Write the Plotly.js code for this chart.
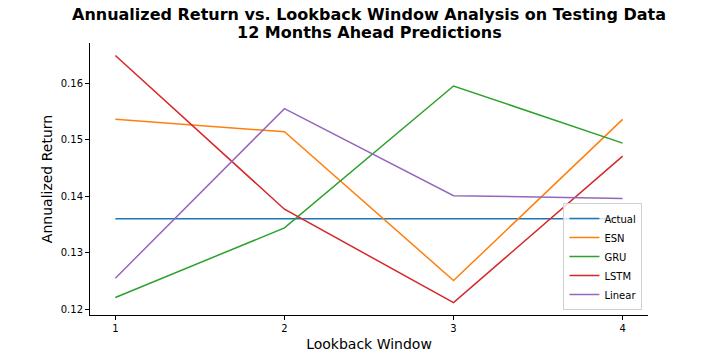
<!DOCTYPE html>
<html><head><meta charset="utf-8">
<script src="https://cdn.plot.ly/plotly-3.0.1.min.js"></script>
<style>html,body{margin:0;padding:0;background:#fff}</style>
</head><body>
<div id="chart" style="width:720px;height:360px"></div>
<script>
const windows = [1, 2, 3, 4];
const actual = [0.1360, 0.1360, 0.1360, 0.1360];
const esn    = [0.1536, 0.1514, 0.1251, 0.1536];
const gru    = [0.1221, 0.1344, 0.1595, 0.1494];
const lstm   = [0.1649, 0.1377, 0.1212, 0.1471];
const linear = [0.1255, 0.1555, 0.1401, 0.1396];
const names = ['Actual', 'ESN', 'GRU', 'LSTM', 'Linear'];
const colors = ['#1f77b4', '#ff7f0e', '#2ca02c', '#d62728', '#9467bd'];
const series = [actual, esn, gru, lstm, linear];
const titleLines = ['Annualized Return vs. Lookback Window Analysis on Testing Data', '12 Months Ahead Predictions'];

const traces = series.map((ys, i) => ({
  x: windows, y: ys, name: names[i], type: 'scatter', mode: 'lines',
  line: {color: colors[i], width: 1.5}
}));

const font = 'DejaVu Sans, sans-serif';
const layout = {
  width: 720, height: 360,
  margin: {l: 90, r: 72, t: 43, b: 45},
  paper_bgcolor: '#fff', plot_bgcolor: '#fff',
  font: {family: font, color: '#000'},
  annotations: [
    {text: '<b>' + titleLines[0] + '</b>', xref: 'paper', yref: 'paper', x: 0.5, y: 1.103,
     xanchor: 'center', yanchor: 'middle', showarrow: false, font: {family: font, size: 16, color: '#000'}},
    {text: '<b>' + titleLines[1] + '</b>', xref: 'paper', yref: 'paper', x: 0.5, y: 1.04,
     xanchor: 'center', yanchor: 'middle', showarrow: false, font: {family: font, size: 16, color: '#000'}}
  ],
  xaxis: {
    range: [0.85, 4.15], tickvals: windows, ticktext: windows.map(String),
    showgrid: false, zeroline: false, showline: true, linecolor: '#000', linewidth: 1,
    ticks: 'outside', ticklen: 4, tickcolor: '#000', tickwidth: 1,
    tickfont: {family: font, size: 10, color: '#000'},
    title: {text: 'Lookback Window', font: {family: font, size: 14, color: '#000'}, standoff: 6}
  },
  yaxis: {
    range: [0.1190, 0.1671], tickvals: [0.12, 0.13, 0.14, 0.15, 0.16],
    ticktext: ['0.12', '0.13', '0.14', '0.15', '0.16'],
    showgrid: false, zeroline: false, showline: true, linecolor: '#000', linewidth: 1,
    ticks: 'outside', ticklen: 4, tickcolor: '#000', tickwidth: 1,
    tickfont: {family: font, size: 10, color: '#000'},
    title: {text: 'Annualized Return', font: {family: font, size: 14, color: '#000'}, standoff: 4}
  },
  showlegend: true,
  legend: {
    x: 0.99, y: 0.018, xanchor: 'right', yanchor: 'bottom',
    bgcolor: 'rgba(255,255,255,0.8)', bordercolor: '#d0d0d0', borderwidth: 1,
    font: {family: font, size: 10, color: '#000'},
    itemwidth: 30, tracegroupgap: 0
  }
};
Plotly.newPlot('chart', traces, layout, {staticPlot: true, displayModeBar: false});
</script>
</body></html>
